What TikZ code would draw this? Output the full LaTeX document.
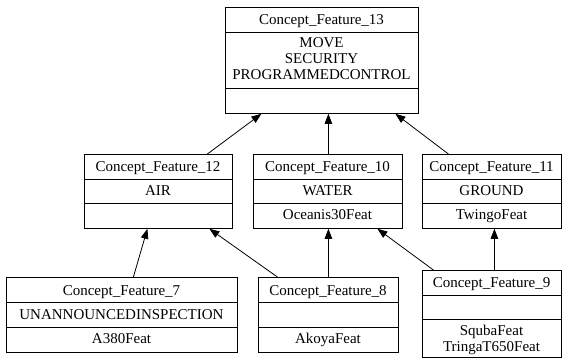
\documentclass[tikz,border=0pt]{standalone}
\usepackage{fontspec}
\setmainfont{Liberation Serif}
\usetikzlibrary{arrows.meta}
\tikzset{
  box/.style={draw=black, line width=0.8pt, inner sep=0pt, anchor=north west, fill=white},
  lbl/.style={font=\fontsize{15}{16.5}\selectfont, inner sep=0pt, anchor=base},
  div/.style={draw=black, line width=0.8pt},
  arr/.style={draw=black, line width=0.8pt, -{Triangle[length=10pt,width=7.5pt]}}
}
\begin{document}
\begin{tikzpicture}[x=1pt,y=-1pt]
\useasboundingbox (0,0) rectangle (568,358);
% Concept_Feature_13
\node[box, minimum width=193pt, minimum height=106pt] (n13) at (225,7) {};
\draw[div] (225,32) -- (418,32);
\draw[div] (225,88) -- (418,88);
\node[lbl] (n13h) at (321.5,25) {Concept\_Feature\_13};
\node[lbl] (n13a) at (321.5,47.5) {MOVE};
\node[lbl] (n13b) at (321.5,63.5) {SECURITY};
\node[lbl] (n13c) at (321.5,80) {PROGRAMMEDCONTROL};
% Concept_Feature_12
\node[box, minimum width=148pt, minimum height=74pt] (n12) at (84,154) {};
\draw[div] (84,179) -- (232,179);
\draw[div] (84,203) -- (232,203);
\node[lbl] (n12h) at (158,172) {Concept\_Feature\_12};
\node[lbl] (n12a) at (158,196) {AIR};
% Concept_Feature_10
\node[box, minimum width=149pt, minimum height=74pt] (n10) at (253,154) {};
\draw[div] (253,179) -- (402,179);
\draw[div] (253,203) -- (402,203);
\node[lbl] (n10h) at (327.5,172) {Concept\_Feature\_10};
\node[lbl] (n10a) at (327.5,196) {WATER};
\node[lbl] (n10b) at (327.5,220) {Oceanis30Feat};
% Concept_Feature_11
\node[box, minimum width=139pt, minimum height=74pt] (n11) at (422,154) {};
\draw[div] (422,179) -- (561,179);
\draw[div] (422,203) -- (561,203);
\node[lbl] (n11h) at (491.5,172) {Concept\_Feature\_11};
\node[lbl] (n11a) at (491.5,196) {GROUND};
\node[lbl] (n11b) at (491.5,220) {TwingoFeat};
% Concept_Feature_7
\node[box, minimum width=231pt, minimum height=75pt] (n7) at (6,277) {};
\draw[div] (6,302) -- (237,302);
\draw[div] (6,327) -- (237,327);
\node[lbl] (n7h) at (121.5,295) {Concept\_Feature\_7};
\node[lbl] (n7a) at (121.5,319.5) {UNANNOUNCEDINSPECTION};
\node[lbl] (n7b) at (121.5,344) {A380Feat};
% Concept_Feature_8
\node[box, minimum width=140pt, minimum height=75pt] (n8) at (258,277) {};
\draw[div] (258,302) -- (398,302);
\draw[div] (258,327) -- (398,327);
\node[lbl] (n8h) at (328,295) {Concept\_Feature\_8};
\node[lbl] (n8b) at (328,344) {AkoyaFeat};
% Concept_Feature_9
\node[box, minimum width=139pt, minimum height=87pt] (n9) at (422,270) {};
\draw[div] (422,295) -- (561,295);
\draw[div] (422,319) -- (561,319);
\node[lbl] (n9h) at (491.5,288) {Concept\_Feature\_9};
\node[lbl] (n9a) at (491.5,335) {SqubaFeat};
\node[lbl] (n9b) at (491.5,351) {TringaT650Feat};
% connectors
\draw[arr] ([xshift=49pt]n12.north) -- ([xshift=-60.5pt]n13.south);
\draw[arr] ([xshift=0.5pt]n10.north) -- ([xshift=6.5pt]n13.south);
\draw[arr] ([xshift=-43.5pt]n11.north) -- ([xshift=73.5pt]n13.south);
\draw[arr] ([xshift=11.5pt]n7.north) -- ([xshift=-11pt]n12.south);
\draw[arr] ([xshift=-51pt]n8.north) -- ([xshift=51pt]n12.south);
\draw[arr] ([xshift=0pt]n8.north) -- ([xshift=0.5pt]n10.south);
\draw[arr] ([xshift=-58.5pt]n9.north) -- ([xshift=49.5pt]n10.south);
\draw[arr] ([xshift=2.5pt]n9.north) -- ([xshift=2.5pt]n11.south);
\end{tikzpicture}
\end{document}
